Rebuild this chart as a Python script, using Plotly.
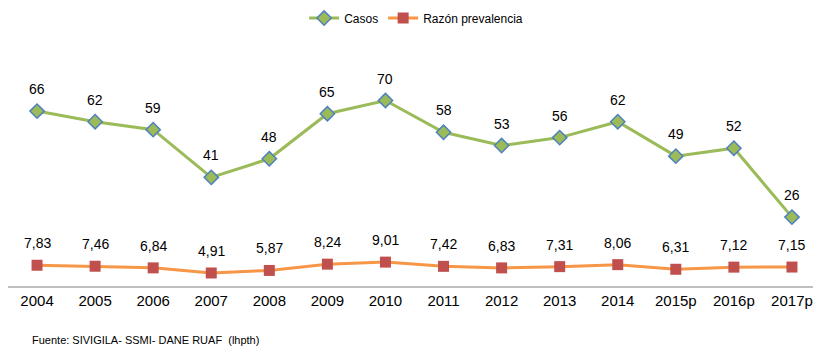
import plotly.graph_objects as go

years = ["2004", "2005", "2006", "2007", "2008", "2009", "2010", "2011", "2012", "2013", "2014", "2015p", "2016p", "2017p"]
casos = [66, 62, 59, 41, 48, 65, 70, 58, 53, 56, 62, 49, 52, 26]
razon = [7.83, 7.46, 6.84, 4.91, 5.87, 8.24, 9.01, 7.42, 6.83, 7.31, 8.06, 6.31, 7.12, 7.15]
razon_labels = ["7,83", "7,46", "6,84", "4,91", "5,87", "8,24", "9,01", "7,42", "6,83", "7,31", "8,06", "6,31", "7,12", "7,15"]

FONT = "Liberation Sans, Arial, sans-serif"
idx = list(range(len(years)))

fig = go.Figure()
fig.add_trace(go.Scatter(
    x=idx, y=casos, name="Casos", mode="lines+markers",
    line=dict(color="#9BBB59", width=3),
    marker=dict(symbol="diamond", size=11, color="#9BBB59", line=dict(color="#4F81BD", width=1.5)),
))
fig.add_trace(go.Scatter(
    x=idx, y=razon, name="Razón prevalencia", mode="lines+markers",
    line=dict(color="#F79646", width=3),
    marker=dict(symbol="square", size=11, color="#C0504D", line=dict(color="#C0504D", width=0)),
))

for i, v in zip(idx, casos):
    fig.add_annotation(x=i, y=v, text=str(v), showarrow=False, yshift=22,
                       font=dict(family=FONT, size=14, color="#000000"))
for i, t, v in zip(idx, razon_labels, razon):
    fig.add_annotation(x=i, y=v, text=t, showarrow=False, yshift=22,
                       font=dict(family=FONT, size=14, color="#000000"))

fig.add_annotation(xref="paper", yref="paper", x=0, y=-0.255, xanchor="left", yanchor="middle",
                   xshift=22, text="Fuente: SIVIGILA- SSMI- DANE RUAF  (lhpth)", showarrow=False,
                   font=dict(family=FONT, size=11, color="#000000"))

fig.update_layout(
    width=813, height=339,
    margin=dict(l=0, r=0, t=66, b=61, autoexpand=False),
    paper_bgcolor="white", plot_bgcolor="white",
    font=dict(family=FONT, color="#000000"),
    showlegend=True,
    legend=dict(orientation="h", x=0.502, xanchor="center", y=1.264, yanchor="middle",
                font=dict(family=FONT, size=12), bgcolor="rgba(0,0,0,0)"),
    xaxis=dict(range=[-0.5, len(years) - 0.5], tickmode="array", tickvals=idx, ticktext=years,
               automargin=False,
               showgrid=False, showline=True, linecolor="#BFBFBF", linewidth=2,
               ticks="", tickfont=dict(family=FONT, size=15, color="#000000"), zeroline=False),
    yaxis=dict(range=[0, 80], visible=False, showgrid=False, zeroline=False),
)

fig.write_html("out.html")
